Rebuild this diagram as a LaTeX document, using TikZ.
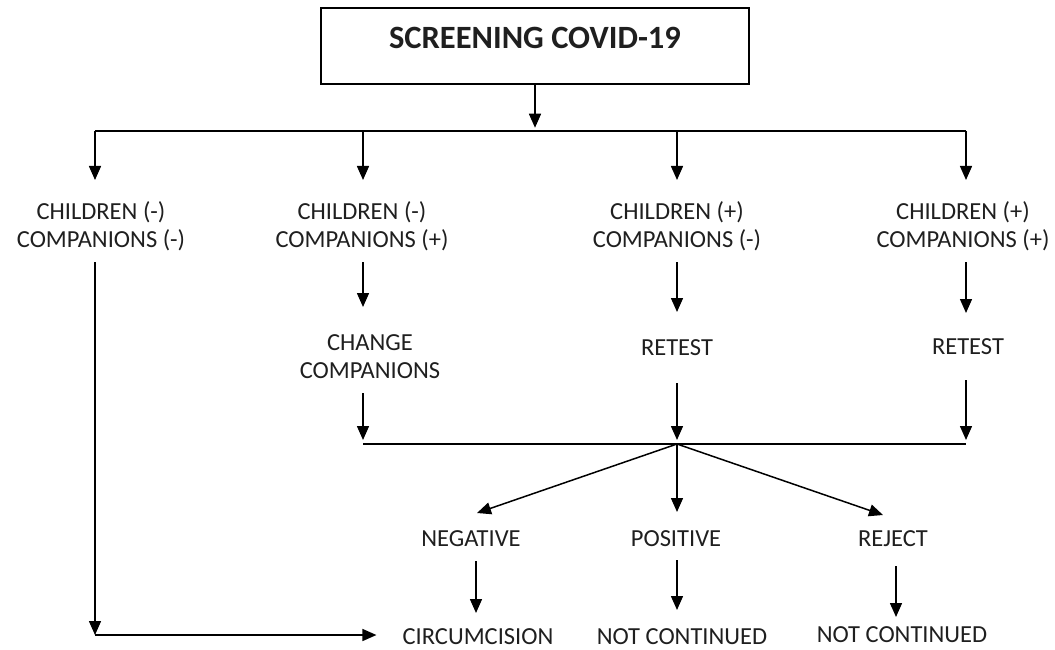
\documentclass[tikz,border=0pt]{standalone}
\usepackage{fontspec}
\setmainfont{Carlito}
\usetikzlibrary{arrows.meta,calc}
\tikzset{
  ln/.style={line width=1.5pt, draw=black},
  arr/.style={ln, -{Triangle[width=12pt,length=14pt]}},
  txt/.style={inner sep=0pt, align=center, font=\fontsize{24.5}{28}\selectfont, text=black!88},
  titlebox/.style={draw=black, line width=1.5pt, minimum width=428pt, minimum height=76pt, inner sep=0pt,
     font=\fontsize{32.5}{36}\bfseries\selectfont, text=black!88, text height=21pt, text depth=15pt}
}
\begin{document}
\begin{tikzpicture}[x=1pt,y=-1pt]
\useasboundingbox (0,0) rectangle (1055,650);
% title
\node[titlebox] (title) at (535,46) {SCREENING COVID-19};
% first bus
\coordinate (busL) at (95,131);
\coordinate (busR) at (966,131);
\coordinate (b2) at (363,131);
\coordinate (b3) at (677,131);
\draw[arr] (title.south) -- ++(0,43);
\draw[ln] (busL) -- (busR);
% level 1
\node[txt] (k1) at (101,226) {CHILDREN (-)\\COMPANIONS (-)};
\node[txt] (k2) at (362,226) {CHILDREN (-)\\COMPANIONS (+)};
\node[txt] (k3) at (677,226) {CHILDREN (+)\\COMPANIONS (-)};
\node[txt] (k4) at (963,226) {CHILDREN (+)\\COMPANIONS (+)};
\draw[arr] (busL) -- ++(0,49);
\draw[arr] (b2) -- ++(0,49);
\draw[arr] (b3) -- ++(0,49);
\draw[arr] (busR) -- ++(0,49);
% level 2
\node[txt] (chg) at (370,357) {CHANGE\\COMPANIONS};
\node[txt] (rt3) at (677,348) {RETEST};
\node[txt] (rt4) at (968,347) {RETEST};
\draw[arr] ($(k2)+(1,36)$) -- ($(chg)+(-7,-50)$);
\draw[arr] ($(k3)+(0,36)$) -- ($(rt3)+(0,-36)$);
\draw[arr] ($(k4)+(3,36)$) -- ($(rt4)+(-2,-34)$);
% second bus
\coordinate (c2) at (363,444);
\coordinate (J) at (677,444);
\coordinate (c4) at (966,444);
\draw[arr] ($(chg)+(-7,36)$) -- ($(c2)+(0,-4)$);
\draw[arr] ($(rt3)+(0,35)$) -- ($(J)+(0,-4)$);
\draw[arr] ($(rt4)+(-2,33)$) -- ($(c4)+(0,-4)$);
\draw[ln] (c2) -- (c4);
% level 3
\node[txt] (neg) at (471,539) {NEGATIVE};
\node[txt] (pos) at (676,539) {POSITIVE};
\node[txt] (rej) at (893,539) {REJECT};
\draw[arr] (J) -- ($(neg)+(6,-26)$);
\draw[arr] (J) -- ($(pos)+(1,-27)$);
\draw[arr] (J) -- ($(rej)+(-10,-24)$);
% level 4
\node[txt] (circ) at (478,637) {CIRCUMCISION};
\node[txt] (nc1) at (682,637) {NOT CONTINUED};
\node[txt] (nc2) at (902,635) {NOT CONTINUED};
\draw[arr] ($(neg)+(5,22)$) -- ($(circ)+(-2,-24)$);
\draw[arr] ($(pos)+(1,21)$) -- ($(nc1)+(-5,-27)$);
\draw[arr] ($(rej)+(3,27)$) -- ($(nc2)+(-6,-18)$);
% left path
\coordinate (corner) at (95,635);
\draw[arr] ($(k1)+(-6,36)$) -- (corner);
\draw[arr] (corner) -- ($(circ.west)+(-26,-2)$);
\end{tikzpicture}
\end{document}
